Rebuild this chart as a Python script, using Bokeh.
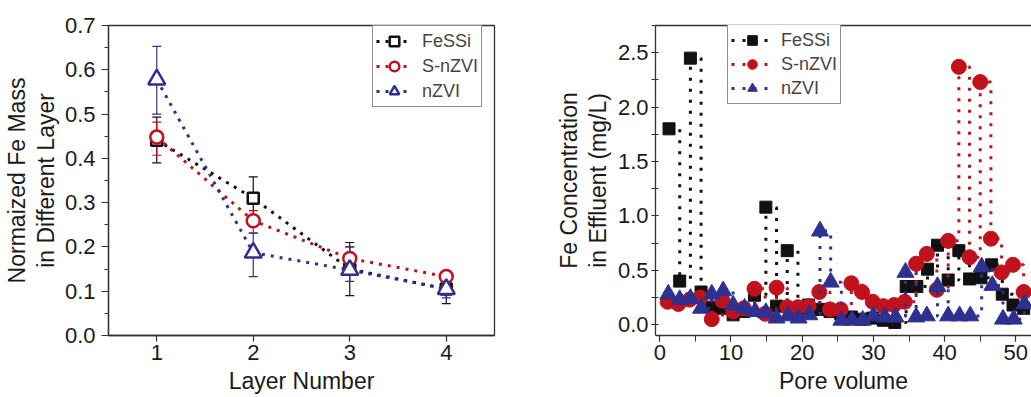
from bokeh.plotting import figure
from bokeh.layouts import row
from bokeh.models import (ColumnDataSource, Whisker, TeeHead, SingleIntervalTicker,
                          LinearAxis, FixedTicker, Range1d, NumeralTickFormatter)
from bokeh.embed import file_html
from bokeh.resources import INLINE

# ---------------- data ----------------
series_names = ["FeSSi", "S-nZVI", "nZVI"]

layers = [1, 2, 3, 4]
fessi_mass = [0.441, 0.310, 0.150, 0.105]
fessi_hi = [0.493, 0.358, 0.210, 0.125]
fessi_lo = [0.390, 0.259, 0.090, 0.072]
snzvi_mass = [0.448, 0.259, 0.174, 0.133]
snzvi_hi = [0.482, 0.282, 0.200, 0.141]
snzvi_lo = [0.407, 0.231, 0.148, 0.125]
nzvi_mass = [0.578, 0.187, 0.148, 0.105]
nzvi_hi = [0.653, 0.231, 0.200, 0.125]
nzvi_lo = [0.500, 0.133, 0.122, 0.085]

pv_fessi = [1.3, 2.8, 4.3, 5.8, 7.3, 8.8, 10.3, 11.8, 13.3, 14.9, 16.4, 17.9, 19.4, 20.9,
            22.4, 23.9, 25.4, 26.9, 28.4, 29.9, 31.4, 33.0, 34.6, 36.1, 37.6, 39.0, 40.5,
            42.0, 43.5, 45.1, 46.6, 48.1, 49.6, 51.1]
fe_fessi = [1.80, 0.40, 2.45, 0.30, 0.16, 0.15, 0.09, 0.12, 0.27, 1.08, 0.17, 0.68, 0.15, 0.18,
            0.14, 0.12, 0.10, 0.07, 0.05, 0.06, 0.04, 0.02, 0.35, 0.35, 0.51, 0.73, 0.41,
            0.68, 0.42, 0.43, 0.55, 0.28, 0.18, 0.15]
pv_snzvi = [1.1, 2.6, 4.2, 5.7, 7.3, 8.8, 10.3, 11.8, 13.3, 14.8, 16.4, 17.9, 19.4, 20.9,
            22.4, 23.9, 25.4, 26.9, 28.4, 29.9, 31.4, 32.9, 34.4, 36.0, 37.5, 38.9, 40.5,
            42.0, 43.5, 45.0, 46.5, 48.0, 49.6, 51.1]
fe_snzvi = [0.21, 0.19, 0.23, 0.25, 0.05, 0.22, 0.12, 0.15, 0.33, 0.10, 0.34, 0.16, 0.16, 0.17,
            0.30, 0.14, 0.14, 0.38, 0.30, 0.21, 0.17, 0.18, 0.21, 0.56, 0.65, 0.32, 0.77,
            2.37, 0.62, 2.23, 0.79, 0.48, 0.55, 0.30]
pv_nzvi = [1.2, 2.8, 4.3, 5.8, 7.3, 8.9, 10.3, 11.9, 13.4, 14.9, 16.4, 18.0, 19.5, 21.0,
           22.5, 24.0, 25.5, 27.0, 28.5, 30.0, 31.6, 33.1, 34.5, 36.0, 37.5, 39.0, 40.5,
           42.1, 43.6, 45.2, 46.7, 48.2, 49.7, 51.2]
fe_nzvi = [0.28, 0.23, 0.24, 0.15, 0.28, 0.31, 0.18, 0.15, 0.12, 0.11, 0.06, 0.08, 0.06, 0.09,
           0.86, 0.39, 0.04, 0.04, 0.04, 0.08, 0.07, 0.07, 0.48, 0.07, 0.08, 0.35, 0.08,
           0.08, 0.08, 0.53, 0.36, 0.05, 0.05, 0.19]

left_x_ticks = [1, 2, 3, 4]
left_y_ticks = [0.0, 0.1, 0.2, 0.3, 0.4, 0.5, 0.6, 0.7]
left_y_minor = [0.05, 0.15, 0.25, 0.35, 0.45, 0.55, 0.65]

# ---------------- style ----------------
BLACK = "#111111"
RED = "#c0121d"
BLUE = "#2e3190"
AX = "#333333"
TICK_FONT = "Liberation Sans"
TXT_FONT = "Liberation Sans"


def style_axis(ax, size):
    ax.axis_line_color = AX
    ax.axis_line_width = 1.3
    ax.major_tick_line_color = AX
    ax.minor_tick_line_color = AX
    ax.major_tick_line_width = 1.2
    ax.minor_tick_line_width = 1.0
    ax.major_label_text_font = TICK_FONT
    ax.major_label_text_font_size = size
    ax.major_label_text_color = "#1a1a1a"
    ax.axis_label_text_font = TXT_FONT
    ax.axis_label_text_font_size = "23px"
    ax.axis_label_text_font_style = "normal"
    ax.axis_label_text_color = "#1a1a1a"


def title_axis(text):
    ax = LinearAxis(ticker=FixedTicker(ticks=[]), axis_line_color=None,
                    major_tick_line_color=None, minor_tick_line_color=None,
                    major_tick_out=0, major_tick_in=0, minor_tick_out=0, minor_tick_in=0,
                    major_label_text_font_size="0px", major_label_standoff=0,
                    axis_label=text, axis_label_standoff=0,
                    axis_label_text_font=TXT_FONT, axis_label_text_font_size="23px",
                    axis_label_text_font_style="normal", axis_label_text_color="#1a1a1a")
    return ax


# ---------------- left figure ----------------
p1 = figure(width=540, height=397, output_backend="svg", toolbar_location=None,
            x_range=Range1d(0.5, 4.5), y_range=Range1d(0.0, 0.7),
            min_border_left=108, min_border_right=46, min_border_top=25, min_border_bottom=60)
p1.grid.visible = False
p1.outline_line_color = AX
p1.outline_line_width = 1.3
p1.background_fill_color = "white"
p1.border_fill_color = "white"

p1.xaxis.ticker = FixedTicker(ticks=left_x_ticks)
p1.yaxis.ticker = FixedTicker(ticks=left_y_ticks, minor_ticks=left_y_minor)
p1.yaxis.formatter = NumeralTickFormatter(format="0.0")
style_axis(p1.xaxis[0], "22px")
style_axis(p1.yaxis[0], "22px")
p1.xaxis.axis_label = "Layer Number"
p1.yaxis.axis_label = "in Different Layer"
p1.xaxis.major_tick_out = 6
p1.xaxis.major_tick_in = 0
p1.xaxis.major_label_standoff = 3
p1.xaxis.axis_label_standoff = 5
p1.yaxis.major_tick_out = 7
p1.yaxis.major_tick_in = 0
p1.yaxis.minor_tick_out = 4
p1.yaxis.minor_tick_in = 0
p1.yaxis.major_label_standoff = 6
p1.yaxis.axis_label_standoff = 3
p1.add_layout(title_axis("Normaized Fe Mass"), "left")

left_series = [
    ("FeSSi", fessi_mass, fessi_hi, fessi_lo, BLACK, "square", 11),
    ("S-nZVI", snzvi_mass, snzvi_hi, snzvi_lo, RED, "circle", 13),
    ("nZVI", nzvi_mass, nzvi_hi, nzvi_lo, BLUE, "triangle", 17),
]
for name, ys, hi, lo, col, mk, sz in left_series:
    src = ColumnDataSource(dict(x=layers, y=ys, upper=hi, lower=lo))
    p1.line("x", "y", source=src, line_color=col, line_width=3, line_dash="3 6",
            legend_label=name)
    w = Whisker(source=src, base="x", upper="upper", lower="lower",
                line_color=col, line_width=1.2,
                upper_head=TeeHead(size=9, line_color=col, line_width=1.2),
                lower_head=TeeHead(size=9, line_color=col, line_width=1.2))
    p1.add_layout(w)
    p1.scatter("x", "y", source=src, marker=mk, size=sz, line_color=col, line_width=2.5,
               fill_color="white", legend_label=name)

lg1 = p1.legend[0]
lg1.location = (264, 228)
lg1.border_line_color = "#222222"
lg1.border_line_width = 1.5
lg1.label_text_font = TXT_FONT
lg1.label_text_font_size = "18px"
lg1.glyph_width = 36
lg1.glyph_height = 24
lg1.label_height = 24
lg1.label_standoff = 10
lg1.padding = 3
lg1.spacing = 1
lg1.margin = 0
lg1.background_fill_alpha = 1.0

# ---------------- right figure ----------------
p2 = figure(width=491, height=397, output_backend="svg", toolbar_location=None,
            x_range=Range1d(-0.6, 52.2), y_range=Range1d(-0.1, 2.75),
            min_border_left=115, min_border_right=0, min_border_top=25, min_border_bottom=62)
p2.grid.visible = False
p2.outline_line_color = None
p2.background_fill_color = "white"
p2.border_fill_color = "white"

p2.xaxis.ticker = SingleIntervalTicker(interval=10, num_minor_ticks=2)
p2.yaxis.ticker = SingleIntervalTicker(interval=0.5, num_minor_ticks=2)
p2.yaxis.formatter = NumeralTickFormatter(format="0.0")
style_axis(p2.xaxis[0], "22px")
style_axis(p2.yaxis[0], "22px")
p2.xaxis.axis_label = "Pore volume"
p2.yaxis.axis_label = "in Effluent (mg/L)"
p2.xaxis.major_tick_out = 6
p2.xaxis.major_tick_in = 0
p2.xaxis.minor_tick_out = 6
p2.xaxis.minor_tick_in = 0
p2.xaxis.major_label_standoff = 3
p2.xaxis.axis_label_standoff = 5
p2.yaxis.major_tick_out = 4
p2.yaxis.major_tick_in = 3
p2.yaxis.minor_tick_out = 4
p2.yaxis.minor_tick_in = 3
p2.yaxis.major_label_standoff = 3
p2.yaxis.axis_label_standoff = 4
p2.add_layout(title_axis("Fe Concentration"), "left")

top = LinearAxis(ticker=FixedTicker(ticks=[]), axis_line_color=AX, axis_line_width=1.3,
                 major_label_text_font_size="0px")
p2.add_layout(top, "above")

right_series = [
    ("FeSSi", pv_fessi, fe_fessi, BLACK, "square", 12),
    ("S-nZVI", pv_snzvi, fe_snzvi, RED, "circle", 15),
    ("nZVI", pv_nzvi, fe_nzvi, BLUE, "triangle", 17),
]
for name, xs, ys, col, mk, sz in right_series:
    src = ColumnDataSource(dict(x=xs, y=ys))
    p2.step("x", "y", source=src, mode="after", line_color=col, line_width=3,
            line_dash="3 8", legend_label=name)
    p2.scatter("x", "y", source=src, marker=mk, size=sz, line_color=col, line_width=1,
               fill_color=col, legend_label=name)

lg2 = p2.legend[0]
lg2.location = (72, 231)
lg2.border_line_color = "#222222"
lg2.border_line_width = 1.5
lg2.label_text_font = TXT_FONT
lg2.label_text_font_size = "18px"
lg2.glyph_width = 42
lg2.glyph_height = 24
lg2.label_height = 24
lg2.label_standoff = 8
lg2.padding = 3
lg2.spacing = 0
lg2.margin = 0
lg2.background_fill_alpha = 1.0

layout = row(p1, p2)
open("out.html", "w").write(file_html(layout, INLINE))
